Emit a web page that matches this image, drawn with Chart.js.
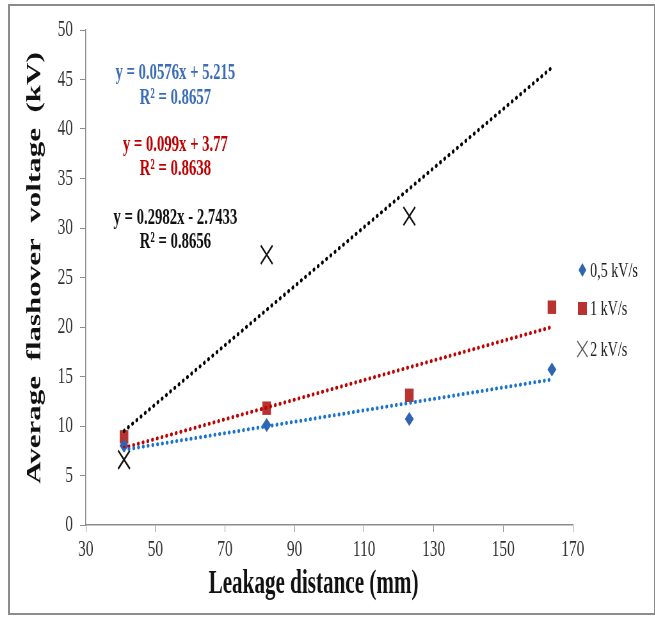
<!DOCTYPE html>
<html>
<head>
    <title>Flashover voltage vs leakage distance</title>
    <script src="https://cdn.jsdelivr.net/npm/chart.js"></script>
    <style>
        body {
            margin: 0;
            overflow: hidden;
            background: #fff;
        }
        #frame {
            position: absolute;
            left: 8px;
            top: 4px;
            width: 644px;
            height: 607px;
            border: 2px solid #8c8c8c;
        }
        /* the original picture is squeezed horizontally, so draw wide and scale down */
        #wrap {
            position: absolute;
            left: 0;
            top: 0;
            width: 1024px;
            height: 617px;
            transform: scaleX(0.64);
            transform-origin: 0 0;
        }
    </style>
</head>
<body>
    <div id="frame"></div>
    <div id="wrap"><canvas id="chart"></canvas></div>

    <script>
        // Leakage distance (mm)
        const xs = [41, 82, 123, 164];
        const xs2 = [41, 82, 123];

        // Average flashover voltage (kV)
        const v05 = [8.0, 10.1, 10.7, 15.7];
        const v1 = [8.9, 11.8, 13.1, 22.0];
        const v2 = [6.6, 27.3, 31.2];

        // Trend line end points (x = 41 and x = 164)
        const trendX = [41, 164];
        const trend05 = [7.6, 14.7];
        const trend1 = [7.8, 20.0];
        const trend2 = [9.5, 46.2];

        const seriesNames = ['0,5 kV/s', '1 kV/s', '2 kV/s'];
        const equations = [
            ['y = 0.0576x + 5.215', 'R² = 0.8657'],
            ['y = 0.099x + 3.77', 'R² = 0.8638'],
            ['y = 0.2982x - 2.7433', 'R² = 0.8656']
        ];
        const xTitle = 'Leakage distance (mm)';
        const yTitle = 'Average  flashover  voltage  (kV)';

        const xTicks = [30, 50, 70, 90, 110, 130, 150, 170];
        const yTicks = [0, 5, 10, 15, 20, 25, 30, 35, 40, 45, 50];

        const BLUE = '#2f64b0';
        const BLUE_LINE = '#1a72d0';
        const RED = '#b83232';
        const RED_LINE = '#c00000';
        const SERIF = '"Liberation Serif", "Times New Roman", serif';

        const pts = (x, y) => y.map((v, i) => ({ x: x[i], y: v }));

        function trend(data, color) {
            return {
                data: data,
                showLine: true,
                borderColor: color,
                borderWidth: 4,
                borderDash: [0.5, 7],
                borderCapStyle: 'round',
                pointRadius: 0,
                order: 0
            };
        }

        // axis titles, equations and legend drawn on the canvas
        const extras = {
            id: 'extras',
            afterDraw(chart) {
                const ctx = chart.ctx;
                ctx.save();
                ctx.textAlign = 'center';
                ctx.textBaseline = 'middle';

                // axis titles
                ctx.fillStyle = '#111';
                ctx.font = 'bold 33px ' + SERIF;
                ctx.fillText(xTitle, 490, 584);
                ctx.save();
                ctx.translate(55, 268);
                ctx.rotate(-Math.PI / 2);
                ctx.font = 'bold 31px ' + SERIF;
                ctx.fillText(yTitle, 0, 0);
                ctx.restore();

                // trend line equations
                ctx.font = 'bold 23px ' + SERIF;
                const eqColors = ['#3a6cb8', '#c00000', '#111'];
                const eqY = [[73, 98], [145, 169], [218, 242]];
                equations.forEach((lines, i) => {
                    ctx.fillStyle = eqColors[i];
                    ctx.fillText(lines[0], 274, eqY[i][0]);
                    ctx.fillText(lines[1], 274, eqY[i][1]);
                });

                // legend
                const lx = 910, ly = [270, 308, 349];
                ctx.fillStyle = BLUE;
                ctx.beginPath();
                ctx.moveTo(lx, ly[0] - 7);
                ctx.lineTo(lx + 6, ly[0]);
                ctx.lineTo(lx, ly[0] + 7);
                ctx.lineTo(lx - 6, ly[0]);
                ctx.closePath();
                ctx.fill();
                ctx.fillStyle = RED;
                ctx.fillRect(lx - 7, ly[1] - 6, 14, 13);
                ctx.strokeStyle = '#555';
                ctx.lineWidth = 1.6;
                ctx.beginPath();
                ctx.moveTo(lx - 8, ly[2] - 8);
                ctx.lineTo(lx + 8, ly[2] + 8);
                ctx.moveTo(lx + 8, ly[2] - 8);
                ctx.lineTo(lx - 8, ly[2] + 8);
                ctx.stroke();

                ctx.textAlign = 'left';
                ctx.font = '22px ' + SERIF;
                ctx.fillStyle = '#222';
                seriesNames.forEach((name, i) => {
                    ctx.fillText(name, lx + 12, ly[i] + 1);
                });
                ctx.restore();
            }
        };

        new Chart(document.getElementById('chart'), {
            type: 'scatter',
            data: {
                datasets: [
                    trend(pts(trendX, trend05), BLUE_LINE),
                    trend(pts(trendX, trend1), RED_LINE),
                    trend(pts(trendX, trend2), '#000'),
                    {
                        label: seriesNames[0],
                        data: pts(xs, v05),
                        pointStyle: 'rectRot',
                        pointRadius: 7,
                        backgroundColor: BLUE,
                        borderColor: BLUE,
                        borderWidth: 0,
                        order: 1
                    },
                    {
                        label: seriesNames[1],
                        data: pts(xs, v1),
                        pointStyle: 'rect',
                        pointRadius: 9.5,
                        backgroundColor: RED,
                        borderColor: RED,
                        borderWidth: 0,
                        order: 1
                    },
                    {
                        label: seriesNames[2],
                        data: pts(xs2, v2),
                        pointStyle: 'crossRot',
                        pointRadius: 13,
                        borderColor: '#111',
                        borderWidth: 2.2,
                        order: 1
                    }
                ]
            },
            options: {
                responsive: true,
                maintainAspectRatio: false,
                animation: false,
                layout: { padding: { left: 0, right: 129, top: 30, bottom: 0 } },
                plugins: {
                    legend: { display: false },
                    tooltip: { enabled: false }
                },
                scales: {
                    x: {
                        type: 'linear',
                        min: xTicks[0],
                        max: xTicks[xTicks.length - 1],
                        afterBuildTicks: s => { s.ticks = xTicks.map(v => ({ value: v })); },
                        afterFit: s => { s.height = 92; },
                        grid: { drawOnChartArea: false, drawTicks: true, tickLength: 7, color: '#8c8c8c' },
                        border: { color: '#8c8c8c', width: 1.5 },
                        ticks: {
                            padding: 3,
                            color: '#333',
                            font: { family: SERIF, size: 24 }
                        }
                    },
                    y: {
                        min: yTicks[0],
                        max: yTicks[yTicks.length - 1],
                        afterBuildTicks: s => { s.ticks = yTicks.map(v => ({ value: v })); },
                        afterFit: s => { s.width = 134; },
                        grid: { drawOnChartArea: false, drawTicks: true, tickLength: 9, color: '#8c8c8c' },
                        border: { color: '#8c8c8c', width: 1.5 },
                        ticks: {
                            padding: 11,
                            color: '#333',
                            font: { family: SERIF, size: 24 }
                        }
                    }
                }
            },
            plugins: [extras]
        });
    </script>
</body>
</html>
